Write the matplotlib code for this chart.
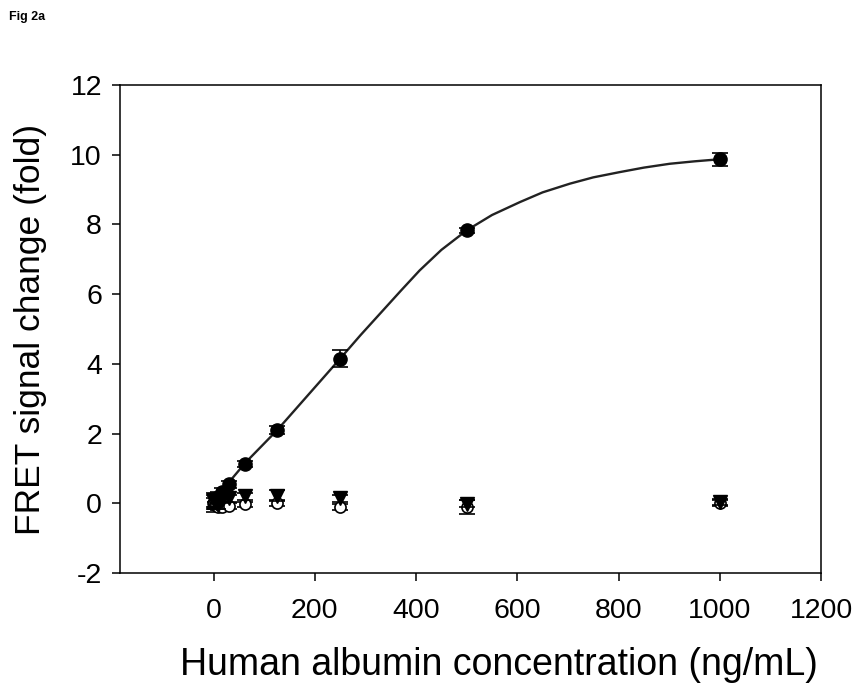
import matplotlib
matplotlib.use("Agg")
import matplotlib.pyplot as plt

plt.rcParams['font.family'] = ['Liberation Sans', 'DejaVu Sans']
plt.rcParams['axes.unicode_minus'] = False

# albumin concentrations (ng/mL)
conc = [0, 1.95, 3.9, 7.8, 15.6, 31.25, 62.5, 125, 250, 500, 1000]

# human albumin (filled circles)
alb = [0.0, 0.05, 0.1, 0.18, 0.32, 0.55, 1.13, 2.1, 4.15, 7.83, 9.87]
alb_err = [0.25, 0.2, 0.15, 0.15, 0.12, 0.1, 0.08, 0.12, 0.25, 0.08, 0.18]

# control protein (filled down triangles)
ctl1 = [0.1, 0.05, 0.0, -0.05, 0.1, 0.15, 0.2, 0.22, 0.15, -0.02, 0.03]
ctl1_err = [0.2, 0.15, 0.15, 0.1, 0.1, 0.1, 0.1, 0.15, 0.1, 0.1, 0.08]

# control protein (open circles)
ctl2 = [0.0, -0.05, -0.05, -0.1, -0.1, -0.08, -0.03, 0.0, -0.1, -0.1, 0.0]
ctl2_err = [0.15, 0.1, 0.1, 0.1, 0.1, 0.08, 0.08, 0.08, 0.08, 0.2, 0.08]

# fitted curve
fit_x = [0, 31.25, 62.5, 125, 250, 290, 335, 370, 407, 450, 500, 550, 605,
         650, 704, 750, 802, 850, 901, 950, 1000]
fit_y = [0.1, 0.62, 1.16, 2.09, 4.15, 4.82, 5.54, 6.1, 6.68, 7.27, 7.83, 8.27, 8.64,
         8.92, 9.17, 9.35, 9.50, 9.63, 9.74, 9.81, 9.87]

fig = plt.figure(figsize=(8.57, 6.83), dpi=100)
ax = fig.add_axes([0.140, 1 - 573 / 683, 0.818, (573 - 85) / 683])

ax.plot(fit_x, fit_y, color='#222222', lw=1.7, zorder=2)

eb = dict(ecolor='black', elinewidth=1.2, capsize=5.5, capthick=1.2, ls='none')
ax.errorbar(conc, alb, yerr=alb_err, fmt='o', ms=9.5, mfc='black', mec='black', zorder=3, **eb)
ax.errorbar(conc, ctl2, yerr=ctl2_err, fmt='o', ms=8, mfc='white', mec='black', mew=1.2, zorder=3, **eb)
ax.errorbar(conc, ctl1, yerr=ctl1_err, fmt='v', ms=9.5, mfc='black', mec='black', zorder=4, **eb)

ax.set_xlim(-185, 1200)
ax.set_ylim(-2, 12)
ax.set_xticks(range(0, 1201, 200))
ax.set_yticks(range(-2, 13, 2))

for s in ax.spines.values():
    s.set_linewidth(1.1)
ax.tick_params(direction='out', length=6, width=1.1, labelsize=20.5)
ax.tick_params(axis='x', pad=12)
ax.tick_params(axis='y', pad=7)

ax.set_xlabel('Human albumin concentration (ng/mL)', fontsize=27)
ax.xaxis.set_label_coords((499 - 120) / (821 - 120), -(665 - 573) / (573 - 85))
ax.xaxis.label.set_va('center')
ax.set_ylabel('FRET signal change (fold)', fontsize=25.5)
ax.yaxis.set_label_coords(-(120 - 31) / (821 - 120), 0.5)
ax.yaxis.label.set_va('center')

fig.text(0.01, 0.975, 'Fig 2a', fontsize=9, fontweight='bold', va='center', ha='left')

fig.savefig('out.png', dpi=100)
